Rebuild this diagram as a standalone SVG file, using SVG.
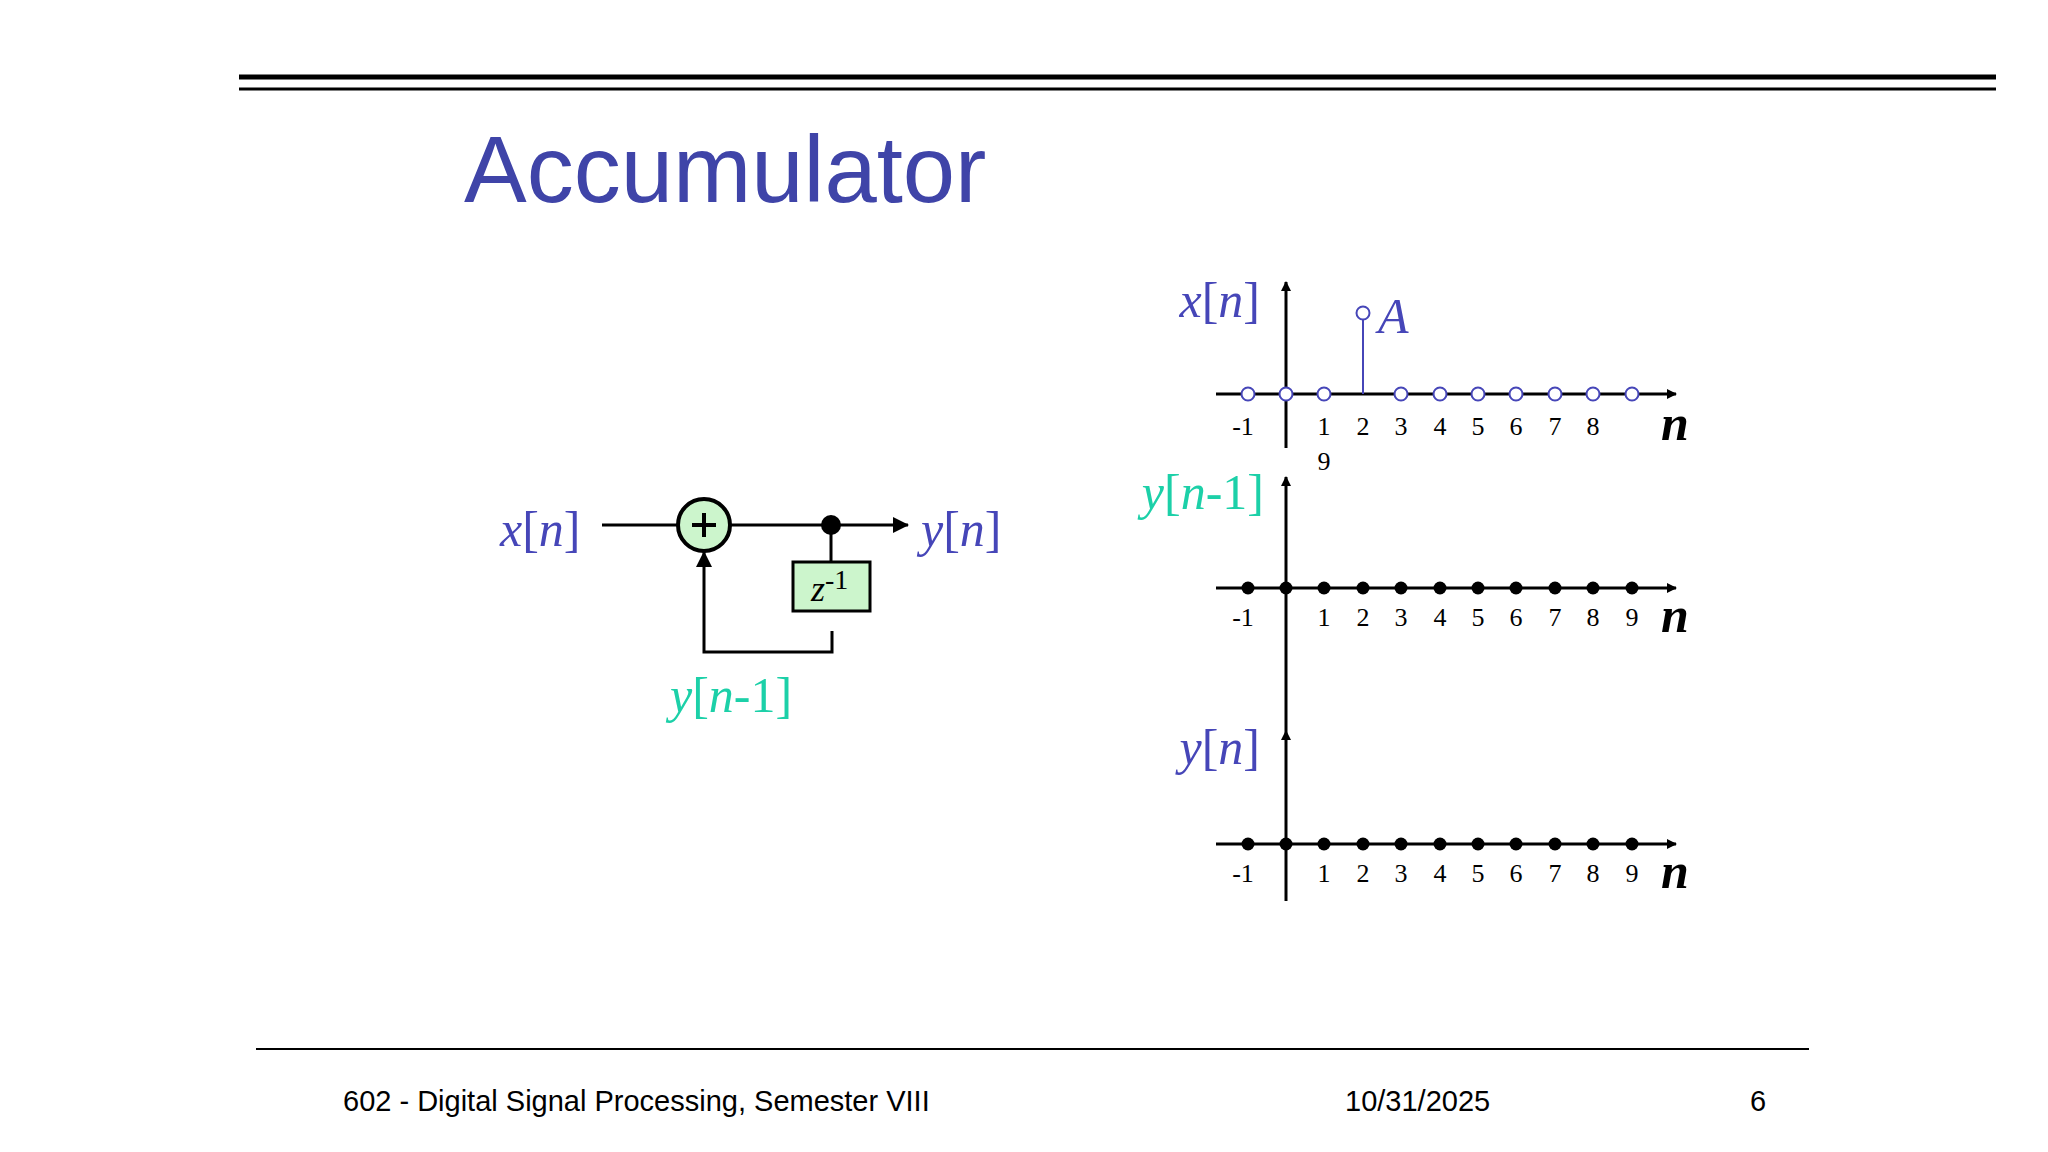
<svg xmlns="http://www.w3.org/2000/svg" width="2048" height="1152" viewBox="0 0 2048 1152">
<style>
.ln{stroke:#000;stroke-width:3;fill:none}
.lbl{font-family:"Liberation Serif",serif;font-size:50px;fill:#4646B8}
.tl{fill:#1CD0A8}
.num{font-family:"Liberation Serif",serif;font-size:26px;fill:#000;text-anchor:middle}
.nn{font-family:"Liberation Serif",serif;font-size:50px;font-style:italic;font-weight:bold;fill:#000}
.foot{font-family:"Liberation Sans",sans-serif;font-size:29px;fill:#000}
.oc{fill:#fff;stroke:#4646B8;stroke-width:2}
.fd{fill:#000}
</style>
<defs>
<marker id="ah" markerWidth="10" markerHeight="10" refX="9" refY="5" orient="auto" markerUnits="userSpaceOnUse"><path d="M0,0 L10,5 L0,10 Z" fill="#000"/></marker>
<marker id="ab" markerWidth="16" markerHeight="16" refX="15" refY="8" orient="auto" markerUnits="userSpaceOnUse"><path d="M0,0 L16,8 L0,16 Z" fill="#000"/></marker>
</defs>
<g id="frame">
<line x1="239" y1="77" x2="1996" y2="77" stroke="#000" stroke-width="5"/>
<line x1="239" y1="89" x2="1996" y2="89" stroke="#000" stroke-width="3"/>
<text x="464" y="202" font-family="Liberation Sans,sans-serif" font-size="94" fill="#3F44A8">Accumulator</text>
<line x1="256" y1="1049" x2="1809" y2="1049" stroke="#000" stroke-width="2"/>
<text class="foot" x="343" y="1111">602 - Digital Signal Processing, Semester VIII</text>
<text class="foot" x="1345" y="1111">10/31/2025</text>
<text class="foot" x="1750" y="1111">6</text>
</g>
<g id="connectors">
<line class="ln" x1="602" y1="525" x2="678" y2="525"/>
<line class="ln" x1="730" y1="525" x2="908" y2="525" marker-end="url(#ab)"/>
<line class="ln" x1="831" y1="525" x2="831" y2="562"/>
<polyline class="ln" points="832,631 832,652 704,652 704,552" marker-end="url(#ab)"/>
</g>
<g id="xin"><text class="lbl" x="500" y="546"><tspan font-style="italic">x</tspan>[<tspan font-style="italic">n</tspan>]</text></g>
<g id="sum"><circle cx="704" cy="525" r="26" fill="#CCF5CC" stroke="#000" stroke-width="4"/>
<path d="M692,525 H716 M704,513 V537" stroke="#000" stroke-width="4"/></g>
<g id="junction"><circle cx="831" cy="525" r="10" fill="#000"/></g>
<g id="delay"><rect x="793" y="562" width="77" height="49" fill="#CCF5CC" stroke="#000" stroke-width="3"/>
<text x="811" y="601" font-family="Liberation Serif,serif" font-size="36" fill="#000"><tspan font-style="italic">z</tspan><tspan font-size="28" dy="-12">-1</tspan></text></g>
<g id="yout"><text class="lbl" x="921" y="546"><tspan font-style="italic">y</tspan>[<tspan font-style="italic">n</tspan>]</text></g>
<g id="yprev"><text class="lbl tl" x="670" y="712"><tspan font-style="italic">y</tspan>[<tspan font-style="italic">n</tspan>-1]</text></g>

<g id="graph1">
<line class="ln" stroke-width="2" x1="1216" y1="394" x2="1676" y2="394" marker-end="url(#ah)"/>
<line class="ln" stroke-width="2" x1="1286" y1="448" x2="1286" y2="282" marker-end="url(#ah)"/>
<line x1="1363" y1="394" x2="1363" y2="313" stroke="#4646B8" stroke-width="2"/>
<circle class="oc" cx="1363" cy="313" r="6.5"/>
<g>
<circle class="oc" cx="1248" cy="394" r="6.5"/><circle class="oc" cx="1286" cy="394" r="6.5"/><circle class="oc" cx="1324" cy="394" r="6.5"/>
<circle class="oc" cx="1401" cy="394" r="6.5"/><circle class="oc" cx="1440" cy="394" r="6.5"/><circle class="oc" cx="1478" cy="394" r="6.5"/><circle class="oc" cx="1516" cy="394" r="6.5"/><circle class="oc" cx="1555" cy="394" r="6.5"/><circle class="oc" cx="1593" cy="394" r="6.5"/><circle class="oc" cx="1632" cy="394" r="6.5"/>
</g>
<text class="lbl" x="1378" y="333" font-style="italic">A</text>
<text class="lbl" x="1260" y="317" text-anchor="end"><tspan font-style="italic">x</tspan>[<tspan font-style="italic">n</tspan>]</text>
<text class="num" y="435"><tspan x="1243">-1</tspan><tspan x="1324">1</tspan><tspan x="1363">2</tspan><tspan x="1401">3</tspan><tspan x="1440">4</tspan><tspan x="1478">5</tspan><tspan x="1516">6</tspan><tspan x="1555">7</tspan><tspan x="1593">8</tspan></text>
<text class="num" x="1324" y="470">9</text>
<text class="nn" x="1661" y="440">n</text>
</g>

<g id="graph2">
<line class="ln" stroke-width="2" x1="1216" y1="588" x2="1676" y2="588" marker-end="url(#ah)"/>
<line class="ln" stroke-width="2" x1="1286" y1="731" x2="1286" y2="477" marker-end="url(#ah)"/>
<g>
<circle class="fd" cx="1248" cy="588" r="6.5"/><circle class="fd" cx="1286" cy="588" r="6.5"/><circle class="fd" cx="1324" cy="588" r="6.5"/><circle class="fd" cx="1363" cy="588" r="6.5"/>
<circle class="fd" cx="1401" cy="588" r="6.5"/><circle class="fd" cx="1440" cy="588" r="6.5"/><circle class="fd" cx="1478" cy="588" r="6.5"/><circle class="fd" cx="1516" cy="588" r="6.5"/><circle class="fd" cx="1555" cy="588" r="6.5"/><circle class="fd" cx="1593" cy="588" r="6.5"/><circle class="fd" cx="1632" cy="588" r="6.5"/>
</g>
<text class="lbl tl" x="1264" y="509" text-anchor="end"><tspan font-style="italic">y</tspan>[<tspan font-style="italic">n</tspan>-1]</text>
<text class="num" y="626"><tspan x="1243">-1</tspan><tspan x="1324">1</tspan><tspan x="1363">2</tspan><tspan x="1401">3</tspan><tspan x="1440">4</tspan><tspan x="1478">5</tspan><tspan x="1516">6</tspan><tspan x="1555">7</tspan><tspan x="1593">8</tspan><tspan x="1632">9</tspan></text>
<text class="nn" x="1661" y="632">n</text>
</g>

<g id="graph3">
<line class="ln" stroke-width="2" x1="1216" y1="844" x2="1676" y2="844" marker-end="url(#ah)"/>
<line class="ln" stroke-width="2" x1="1286" y1="901" x2="1286" y2="731" marker-end="url(#ah)"/>
<g>
<circle class="fd" cx="1248" cy="844" r="6.5"/><circle class="fd" cx="1286" cy="844" r="6.5"/><circle class="fd" cx="1324" cy="844" r="6.5"/><circle class="fd" cx="1363" cy="844" r="6.5"/>
<circle class="fd" cx="1401" cy="844" r="6.5"/><circle class="fd" cx="1440" cy="844" r="6.5"/><circle class="fd" cx="1478" cy="844" r="6.5"/><circle class="fd" cx="1516" cy="844" r="6.5"/><circle class="fd" cx="1555" cy="844" r="6.5"/><circle class="fd" cx="1593" cy="844" r="6.5"/><circle class="fd" cx="1632" cy="844" r="6.5"/>
</g>
<text class="lbl" x="1260" y="764" text-anchor="end"><tspan font-style="italic">y</tspan>[<tspan font-style="italic">n</tspan>]</text>
<text class="num" y="882"><tspan x="1243">-1</tspan><tspan x="1324">1</tspan><tspan x="1363">2</tspan><tspan x="1401">3</tspan><tspan x="1440">4</tspan><tspan x="1478">5</tspan><tspan x="1516">6</tspan><tspan x="1555">7</tspan><tspan x="1593">8</tspan><tspan x="1632">9</tspan></text>
<text class="nn" x="1661" y="888">n</text>
</g>
</svg>
